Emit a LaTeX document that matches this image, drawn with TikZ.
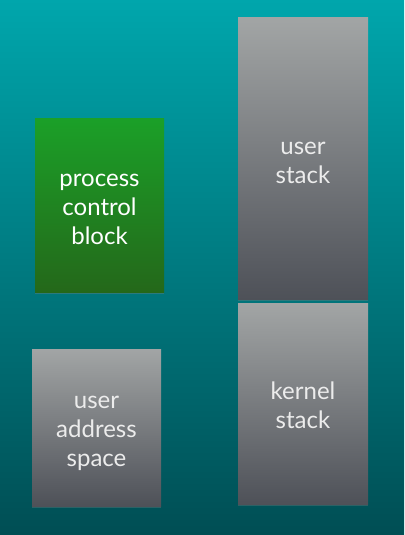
\documentclass[tikz,border=0pt]{standalone}
\usepackage{fontspec}
\newfontfamily\slidefont{Lato}
\usepackage{tikz}
\usetikzlibrary{positioning, shadows}
\definecolor{bgtop}{RGB}{0,166,172}
\definecolor{bgmid}{RGB}{0,128,132}
\definecolor{bgbot}{RGB}{0,78,84}
\definecolor{pcbtop}{RGB}{27,160,40}
\definecolor{pcbbot}{RGB}{36,104,26}
\definecolor{graytop}{RGB}{162,165,165}
\definecolor{graybot}{RGB}{78,81,88}
\definecolor{labelgray}{RGB}{236,236,236}

\begin{document}
\begin{tikzpicture}[
    x=1pt, y=-1pt,
    % Styles
    block/.style={
        rectangle, inner sep=0pt,
        drop shadow={opacity=0.35, shadow xshift=0pt, shadow yshift=-2pt}
    },
    graybox/.style={
        block, top color=graytop, bottom color=graybot
    },
    greenbox/.style={
        block, top color=pcbtop, bottom color=pcbbot
    },
    boxtext/.style={
        text=#1, align=center, inner sep=0pt, yshift=-4pt,
        font=\slidefont\fontsize{24}{29}\selectfont
    },
    boxtext/.default=labelgray
]

% ── BACKGROUND ──
\useasboundingbox (0,0) rectangle (404,535);
\shade[top color=bgtop, middle color=bgmid, bottom color=bgbot] (0,0) rectangle (404,535);

% ── LEFT COLUMN ──
\node[greenbox, minimum width=129pt, minimum height=174pt] (pcb) at (99.5,205) {};
\node[boxtext=white] (pcbtext) at (pcb) {process\\control\\block};

\node[graybox, minimum width=129pt, minimum height=157pt] (uas) at (96.5,427.5) {};
\node[boxtext, yshift=-2pt] (uastext) at (uas) {user\\address\\space};

% ── RIGHT COLUMN ──
\node[graybox, minimum width=130pt, minimum height=281pt] (ustack) at (303,158.5) {};
\node[boxtext] (ustacktext) at (ustack) {user\\stack};

\node[graybox, minimum width=130pt, minimum height=201pt, below=4pt of ustack] (kstack) {};
\node[boxtext, yshift=3pt] (kstacktext) at (kstack) {kernel\\stack};

\end{tikzpicture}
\end{document}
